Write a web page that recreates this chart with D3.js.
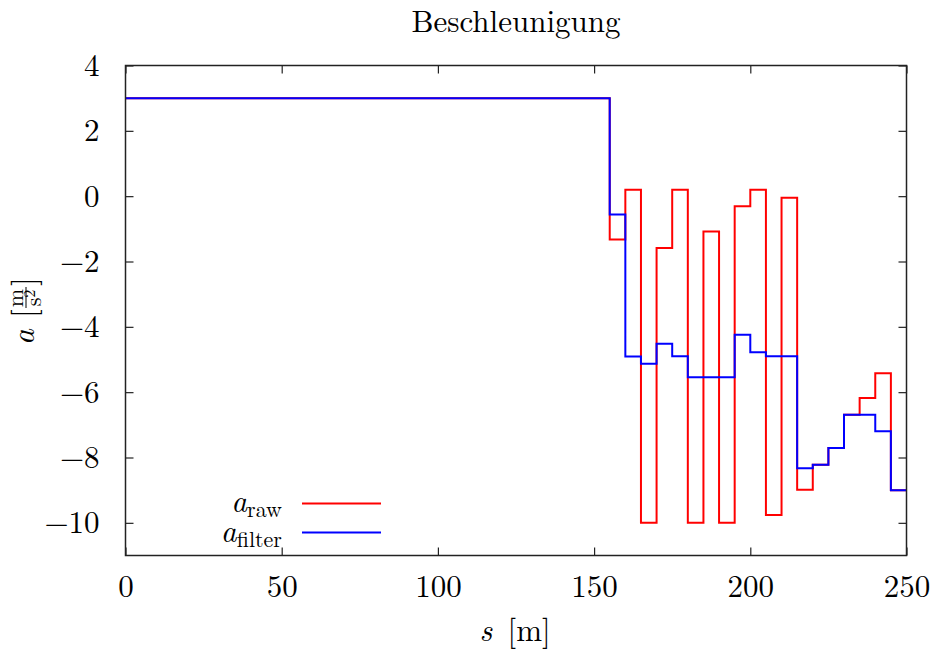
<!DOCTYPE html>
<html>
<head>
<meta charset="utf-8">
<script src="https://cdn.jsdelivr.net/npm/d3@7"></script>
<style>
  html, body { margin: 0; padding: 0; background: #fff; }
  svg { display: block; }
</style>
</head>
<body>
<svg id="chart" width="931" height="650"></svg>
<script>
// ---- data ----
const sStart = [0, 155, 160, 165, 170, 175, 180, 185, 190, 195, 200, 205, 210, 215, 220, 225, 230, 235, 240, 245];
const sEnd = 250;
const aRaw = [3, -1.33, 0.2, -10, -1.59, 0.2, -10, -1.08, -10, -0.31, 0.2, -9.76, -0.05, -8.99, -8.22, -7.71, -6.69, -6.18, -5.42, -9.0];
const aFilter = [3, -0.565, -4.905, -5.13, -4.52, -4.9, -5.54, -5.54, -5.54, -4.24, -4.78, -4.9, -4.9, -8.33, -8.22, -7.71, -6.69, -6.69, -7.2, -9.0];
const xTicks = [0, 50, 100, 150, 200, 250];
const yTicks = [-10, -8, -6, -4, -2, 0, 2, 4];
const titleText = "Beschleunigung";

// ---- layout ----
const FONT = '"Latin Modern Roman", "Liberation Serif", "Times New Roman", serif';
const FS = 31;
const svg = d3.select("#chart");
const L = 125.5, R = 906.5, T = 65.5, B = 555.5;
const x = d3.scaleLinear().domain([0, 250]).range([L, R]);
const y = d3.scaleLinear().domain([-11, 4]).range([B, T]);

const fmt = v => (v < 0 ? "\u2212" + Math.abs(v) : String(v));
const styleTicks = g => {
  g.select(".domain").remove();
  g.selectAll("line").attr("stroke", "#222").attr("stroke-width", 1.2);
  g.selectAll("text").style("font-family", FONT).attr("font-size", FS).attr("fill", "#000");
};

// axes with inward ticks on all four sides
const tickLen = 8;
svg.append("g").attr("transform", `translate(0,${B})`)
  .call(d3.axisBottom(x).tickValues(xTicks).tickSizeInner(-tickLen).tickSizeOuter(0).tickPadding(19).tickFormat(fmt))
  .call(styleTicks).call(g => g.selectAll("text").attr("dy", "0.71em"));
svg.append("g").attr("transform", `translate(0,${T})`)
  .call(d3.axisTop(x).tickValues(xTicks).tickSizeInner(-tickLen).tickSizeOuter(0).tickFormat(""))
  .call(styleTicks);
svg.append("g").attr("transform", `translate(${L},0)`)
  .call(d3.axisLeft(y).tickValues(yTicks).tickSizeInner(-tickLen).tickSizeOuter(0).tickPadding(26).tickFormat(fmt))
  .call(styleTicks);
svg.append("g").attr("transform", `translate(${R},0)`)
  .call(d3.axisRight(y).tickValues(yTicks).tickSizeInner(-tickLen).tickSizeOuter(0).tickFormat(""))
  .call(styleTicks);

// series
const mkPts = vals => sStart.map((s, i) => [s, vals[i]]).concat([[sEnd, vals[vals.length - 1]]]);
const line = d3.line().x(d => x(d[0])).y(d => y(d[1])).curve(d3.curveStepAfter);

svg.append("defs").append("clipPath").attr("id", "clip")
  .append("rect").attr("x", L).attr("y", T).attr("width", R - L).attr("height", B - T);

const plot = svg.append("g").attr("clip-path", "url(#clip)");
plot.append("path").attr("d", line(mkPts(aRaw))).attr("fill", "none").attr("stroke", "#ff0000").attr("stroke-width", 2);
plot.append("path").attr("d", line(mkPts(aFilter))).attr("fill", "none").attr("stroke", "#0000ff").attr("stroke-width", 2);

// frame
svg.append("rect").attr("x", L).attr("y", T).attr("width", R - L).attr("height", B - T)
  .attr("fill", "none").attr("stroke", "#222").attr("stroke-width", 1.5);

const txt = (sel) => sel.append("text").style("font-family", FONT).attr("fill", "#000");

// title
txt(svg).attr("x", (L + R) / 2).attr("y", 32).attr("text-anchor", "middle")
  .attr("font-size", FS).text(titleText);

// x label
const xl = txt(svg).attr("x", 515).attr("y", 641).attr("text-anchor", "middle").attr("font-size", FS);
xl.append("tspan").attr("font-style", "italic").text("s");
xl.append("tspan").text("\u2002[m]");

// y label (rotated)
const yl = svg.append("g").attr("transform", "translate(34,345) rotate(-90)");
txt(yl).attr("x", 0).attr("y", 0).attr("font-size", FS).attr("font-style", "italic").text("a");
txt(yl).attr("x", 27).attr("y", 0).attr("font-size", FS).text("[");
txt(yl).attr("x", 47).attr("y", -11).attr("font-size", 22).attr("text-anchor", "middle").text("m");
yl.append("line").attr("x1", 37).attr("x2", 58).attr("y1", -8).attr("y2", -8).attr("stroke", "#000").attr("stroke-width", 1);
const den = txt(yl).attr("x", 47).attr("y", 7).attr("font-size", 22).attr("text-anchor", "middle");
den.append("tspan").text("s");
den.append("tspan").attr("font-size", 16).attr("dy", -6).text("2");
txt(yl).attr("x", 59).attr("y", 0).attr("font-size", FS).text("]");

// legend
const legend = [
  { name: "raw", color: "#ff0000", y: 503.5, base: 512 },
  { name: "filter", color: "#0000ff", y: 532.5, base: 541.5 }
];
legend.forEach(d => {
  const t = txt(svg).attr("x", 282).attr("y", d.base).attr("text-anchor", "end").attr("font-size", FS);
  t.append("tspan").attr("font-style", "italic").text("a");
  t.append("tspan").attr("font-size", 22).attr("dy", 5).text(d.name);
  svg.append("line").attr("x1", 302).attr("x2", 381).attr("y1", d.y).attr("y2", d.y)
    .attr("stroke", d.color).attr("stroke-width", 2);
});
</script>
</body>
</html>
